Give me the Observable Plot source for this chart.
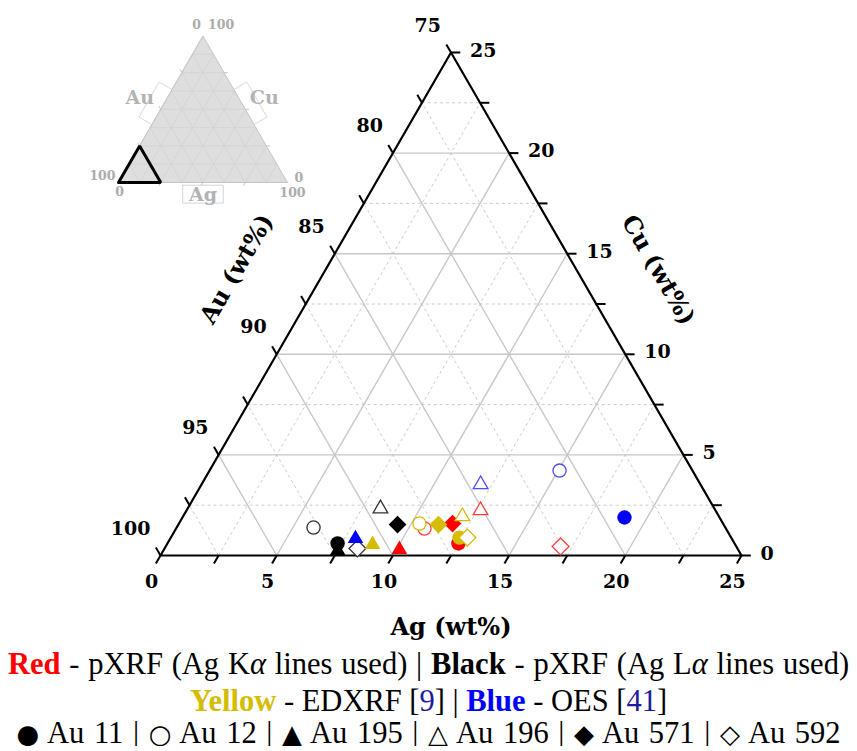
<!DOCTYPE html>
<html><head><meta charset="utf-8">
<script src="https://cdn.jsdelivr.net/npm/d3@7"></script>
<script src="https://cdn.jsdelivr.net/npm/@observablehq/plot@0.6"></script>
<style>
body{margin:0;background:#fff;width:857px;}
#wrap{position:relative;width:857px;height:646px;}
#inset{position:absolute;left:90px;top:10px;}
#legend{font-family:"Liberation Serif",serif;font-size:30.5px;text-align:center;color:#000;white-space:nowrap;}
#legend div{height:37px;line-height:37px;}
#legend div.first{word-spacing:1.2px;}
#legend div.last{height:26px;line-height:26px;word-spacing:2px;}
#legend .ref{color:#1c1c9c;}
#legend .glyph{font-family:"DejaVu Sans",sans-serif;font-size:26px;}
</style></head><body>
<div id="wrap"><div id="main"></div><div id="inset"></div></div>
<div id="legend"></div>
<script>
// ---------- data ----------
const samples = ["Au 11","Au 12","Au 195","Au 196","Au 571","Au 592"];
const seriesNames = ["Red","Black","Yellow","Blue"];
const seriesMethod = ["pXRF (Ag K<i>α</i> lines used)","pXRF (Ag L<i>α</i> lines used)","EDXRF","OES"];
const seriesRef = [null,null,"9","41"];
// Ag and Cu in wt% (Au = 100 - Ag - Cu), order follows samples
const redAg    = [12.52,10.69,10.13,12.65,11.77,16.99];
const redCu    = [0.60, 1.34, 0.30, 2.24, 1.59, 0.45];
const blackAg  = [7.32, 5.89, 7.50, 8.30, 9.43, 8.30];
const blackCu  = [0.60, 1.39, 0.25, 2.33, 1.54, 0.35];
const yellowAg = [12.42,10.35,8.85,12.02,11.19,12.76];
const yellowCu = [0.89, 1.59, 0.55, 1.94, 1.54, 0.89];
const blueAg   = [19.02,15.06,7.97,12.01,null,null];
const blueCu   = [1.89, 4.22, 0.84, 3.53, null,null];
const agTicks = [0,5,10,15,20,25];
const cuTicks = [0,5,10,15,20,25];
const auTicks = [75,80,85,90,95,100];
const minorStep = 2.5;
const insetTicks = [0,100];

// ---------- styles ----------
const seriesColors = ["#ff0000","#000000","#d4bc00","#0000ff"];
const openStroke = ["#ff3b3b","#333333","#d4bc00","#4b4bff"];
const seriesAg = [redAg,blackAg,yellowAg,blueAg];
const seriesCu = [redCu,blackCu,yellowCu,blueCu];
const sampleSymbol = ["circle","circle","triangle2","triangle2","diamond2","diamond2"];
const sampleFilled = [true,false,true,false,true,false];
const filledR = {circle:7.2, triangle2:7.4, diamond2:8};
const openR = {circle:6.6, triangle2:7.0, diamond2:7.6};
const sampleGlyph = ["●","○","▲","△","◆","◇"];

// ---------- ternary geometry ----------
const S3 = Math.sqrt(3)/2;
const FULL = d3.max(agTicks) - d3.min(agTicks); // 25 wt% window
const tx = (ag, cu) => ag + cu/2;
const ty = (ag, cu) => cu*S3;
const steps = d3.range(0, FULL + 1e-9, minorStep);

const grid = [];
for (const v of steps) {
  if (v <= 0 || v >= FULL) continue;
  const major = Math.abs(v % 5) < 1e-9;
  grid.push({major, a:[0,v], b:[FULL-v,v]});   // constant Cu
  grid.push({major, a:[v,0], b:[v,FULL-v]});   // constant Ag
  grid.push({major, a:[v,0], b:[0,v]});        // constant Au
}
const outline = [[0,0],[FULL,0],[0,FULL],[0,0]];
const L = 0.40; // tick length in data units
const ticks = [];
for (const v of steps) {
  ticks.push({a:[tx(v,0),ty(v,0)], b:[tx(v,0)-0.5*L, ty(v,0)-S3*L]});              // bottom (Ag)
  ticks.push({a:[tx(0,v),ty(0,v)], b:[tx(0,v)-0.5*L, ty(0,v)+S3*L]});              // left (Au)
  ticks.push({a:[tx(FULL-v,v),ty(FULL-v,v)], b:[tx(FULL-v,v)+L, ty(FULL-v,v)]});   // right (Cu)
}
const font = "DejaVu Serif, serif";

const marks = [];
const minor = grid.filter(d => !d.major), major = grid.filter(d => d.major);
marks.push(Plot.link(minor, {x1:d=>tx(...d.a), y1:d=>ty(...d.a), x2:d=>tx(...d.b), y2:d=>ty(...d.b), stroke:"#cccccc", strokeWidth:1, strokeDasharray:"3,3"}));
marks.push(Plot.link(major, {x1:d=>tx(...d.a), y1:d=>ty(...d.a), x2:d=>tx(...d.b), y2:d=>ty(...d.b), stroke:"#c8c8c8", strokeWidth:1.4}));
marks.push(Plot.link(ticks, {x1:d=>d.a[0], y1:d=>d.a[1], x2:d=>d.b[0], y2:d=>d.b[1], stroke:"#000", strokeWidth:2}));
marks.push(Plot.line(outline, {x:d=>tx(d[0],d[1]), y:d=>ty(d[0],d[1]), stroke:"#000", strokeWidth:2.2, strokeLinejoin:"miter"}));
// tick labels
marks.push(Plot.text(agTicks, {x:v=>tx(v,0), y:v=>ty(v,0), text:d=>String(d), dx:-9, dy:26, fontFamily:font, fontWeight:"bold", fontSize:19, fill:"#000"}));
marks.push(Plot.text(auTicks, {x:v=>tx(0,100-v), y:v=>ty(0,100-v), text:d=>String(d), textAnchor:"end", dx:-10, dy:-27, fontFamily:font, fontWeight:"bold", fontSize:19, fill:"#000"}));
marks.push(Plot.text(cuTicks, {x:v=>tx(FULL-v,v), y:v=>ty(FULL-v,v), text:d=>String(d), textAnchor:"start", dx:19, dy:-2, fontFamily:font, fontWeight:"bold", fontSize:19, fill:"#000"}));
// axis titles
marks.push(Plot.text(["Ag (wt%)"], {x:tx(FULL/2,0), y:ty(FULL/2,0), text:d=>d, dy:72, fontFamily:font, fontWeight:"bold", fontSize:24, fill:"#000"}));
marks.push(Plot.text(["Au (wt%)"], {x:tx(0,FULL/2), y:ty(0,FULL/2), text:d=>d, dx:-69, dy:-35, rotate:-60, fontFamily:font, fontWeight:"bold", fontSize:24, fill:"#000"}));
marks.push(Plot.text(["Cu (wt%)"], {x:tx(FULL/2,FULL/2), y:ty(FULL/2,FULL/2), text:d=>d, dx:62, dy:-34, rotate:60, fontFamily:font, fontWeight:"bold", fontSize:24, fill:"#000"}));
// data points
seriesNames.forEach((name, s) => {
  samples.forEach((smp, i) => {
    const ag = seriesAg[s][i], cu = seriesCu[s][i];
    if (ag == null || cu == null) return;
    const sym = sampleSymbol[i];
    const filled = sampleFilled[i];
    marks.push(Plot.dot([{ag, cu, smp, name}], {
      x:d=>tx(d.ag,d.cu), y:d=>ty(d.ag,d.cu), symbol:sym,
      r: filled ? filledR[sym] : openR[sym],
      fill: filled ? seriesColors[s] : "#fff",
      stroke: filled ? "none" : openStroke[s],
      strokeWidth: filled ? 0 : 1.3
    }));
  });
});

const chart = Plot.plot({
  width:857, height:646,
  x:{axis:null, domain:[0,FULL], range:[160,741]},
  y:{axis:null, domain:[0,FULL*S3], range:[555,52]},
  style:{background:"transparent", overflow:"visible"},
  marks
});
document.getElementById("main").append(chart);

// ---------- inset ----------
const IF = insetTicks[1];
const insetGridSteps = d3.range(12.5, IF, 12.5);
const igrid = [];
for (const v of insetGridSteps) {
  igrid.push({a:[0,v], b:[IF-v,v]});
  igrid.push({a:[v,0], b:[v,IF-v]});
  igrid.push({a:[v,0], b:[0,v]});
}
const itri = [[0,0],[IF/2,IF*S3],[IF,0]];
const zoomTri = [[0,0],[FULL,0],[0,FULL],[0,0]];
const itickSteps = d3.range(25, IF, 25);
const IL = 2.2;
const iticks = [];
for (const v of itickSteps) {
  iticks.push({a:[tx(v,0),ty(v,0)], b:[tx(v,0)-0.5*IL, ty(v,0)-S3*IL]});
  iticks.push({a:[tx(0,v),ty(0,v)], b:[tx(0,v)-0.5*IL, ty(0,v)+S3*IL]});
  iticks.push({a:[tx(IF-v,v),ty(IF-v,v)], b:[tx(IF-v,v)+IL, ty(IF-v,v)]});
}
// label boxes (parallel to edges)
const boxW = 8.9;
const boxSpan = [39.6, 63.5];
const nL = [-S3, 0.5], nR = [S3, 0.5];
const leftPt = c => [tx(0,c), ty(0,c)], rightPt = c => [tx(IF-c,c), ty(IF-c,c)];
const mkBox = (pt, n) => {
  const p0 = pt(boxSpan[0]), p1 = pt(boxSpan[1]);
  return [p0, p1, [p1[0]+n[0]*boxW, p1[1]+n[1]*boxW], [p0[0]+n[0]*boxW, p0[1]+n[1]*boxW], p0];
};
const auPoly = mkBox(leftPt, nL), cuPoly = mkBox(rightPt, nR);
const agPoly = [[38,-1.6],[62,-1.6],[62,-12.2],[38,-12.2],[38,-1.6]];
const gray = "#ababab";
const ifont = "DejaVu Serif, serif";
const inset = Plot.plot({
  width:220, height:195,
  x:{axis:null, domain:[0,IF], range:[28,197]},
  y:{axis:null, domain:[0,IF*S3], range:[172,25.6]},
  style:{background:"transparent", overflow:"visible"},
  marks:[
    Plot.areaY(itri, {x:d=>d[0], y1:0, y2:d=>d[1], fill:"#dedede"}),
    Plot.link(igrid, {x1:d=>tx(...d.a), y1:d=>ty(...d.a), x2:d=>tx(...d.b), y2:d=>ty(...d.b), stroke:"#d2d2d2", strokeWidth:0.8}),
    Plot.line([...itri, itri[0]], {x:d=>d[0], y:d=>d[1], stroke:"#c4c4c4", strokeWidth:1}),
    Plot.link(iticks, {x1:d=>d.a[0], y1:d=>d.a[1], x2:d=>d.b[0], y2:d=>d.b[1], stroke:"#c4c4c4", strokeWidth:1}),
    Plot.line(auPoly, {x:d=>d[0], y:d=>d[1], stroke:"#cccccc", strokeWidth:0.8, strokeDasharray:"2,1"}),
    Plot.line(cuPoly, {x:d=>d[0], y:d=>d[1], stroke:"#cccccc", strokeWidth:0.8, strokeDasharray:"2,1"}),
    Plot.line(agPoly, {x:d=>d[0], y:d=>d[1], stroke:"#cccccc", strokeWidth:0.8}),
    Plot.line(zoomTri, {x:d=>tx(d[0],d[1]), y:d=>ty(d[0],d[1]), stroke:"#000", strokeWidth:3, strokeLinejoin:"miter"}),
    // numbers
    Plot.text([String(insetTicks[0])], {x:tx(0,IF), y:ty(0,IF), text:d=>d, textAnchor:"end", dx:-2, dy:-11, fontFamily:ifont, fontWeight:"bold", fontSize:12.5, fill:gray}),
    Plot.text([String(insetTicks[1])], {x:tx(0,IF), y:ty(0,IF), text:d=>d, textAnchor:"start", dx:5, dy:-11, fontFamily:ifont, fontWeight:"bold", fontSize:12.5, fill:gray}),
    Plot.text([String(insetTicks[1])], {x:0, y:0, text:d=>d, textAnchor:"end", dx:-3, dy:-7, fontFamily:ifont, fontWeight:"bold", fontSize:12.5, fill:gray}),
    Plot.text([String(insetTicks[0])], {x:0, y:0, text:d=>d, dx:1, dy:9, fontFamily:ifont, fontWeight:"bold", fontSize:12.5, fill:gray}),
    Plot.text([String(insetTicks[0])], {x:IF, y:0, text:d=>d, textAnchor:"start", dx:7, dy:-5, fontFamily:ifont, fontWeight:"bold", fontSize:12.5, fill:gray}),
    Plot.text([String(insetTicks[1])], {x:IF, y:0, text:d=>d, dx:5, dy:10, fontFamily:ifont, fontWeight:"bold", fontSize:12.5, fill:gray}),
    // element labels
    Plot.text(["Au"], {x:tx(0,IF/2), y:ty(0,IF/2), text:d=>d, dx:-21, dy:-11, fontFamily:ifont, fontWeight:"bold", fontSize:19, fill:"#b3b3b3"}),
    Plot.text(["Cu"], {x:tx(IF/2,IF/2), y:ty(IF/2,IF/2), text:d=>d, dx:19, dy:-11, fontFamily:ifont, fontWeight:"bold", fontSize:19, fill:"#b3b3b3"}),
    Plot.text(["Ag"], {x:tx(IF/2,0), y:0, text:d=>d, dx:0, dy:12, fontFamily:ifont, fontWeight:"bold", fontSize:19, fill:"#b3b3b3"})
  ]
});
document.getElementById("inset").append(inset);

// ---------- legend ----------
const legendEl = document.getElementById("legend");
const legendColors = ["#ff0000","#000000","#d4bc00","#0000ff"];
const seriesPart = s => `<b style="color:${legendColors[s]}">${seriesNames[s]}</b> - ${seriesMethod[s]}${seriesRef[s] ? ` [<span class="ref">${seriesRef[s]}</span>]` : ""}`;
const lines = [
  [0,1].map(seriesPart).join(" | "),
  [2,3].map(seriesPart).join(" | "),
  samples.map((smp,i) => `<span class="glyph">${sampleGlyph[i]}</span> ${smp}`).join(" | ")
];
const lineClass = ["first","",'last'];
legendEl.innerHTML = lines.map((l,i) => `<div class="${lineClass[i]}">${l}</div>`).join("");
</script>
</body></html>
